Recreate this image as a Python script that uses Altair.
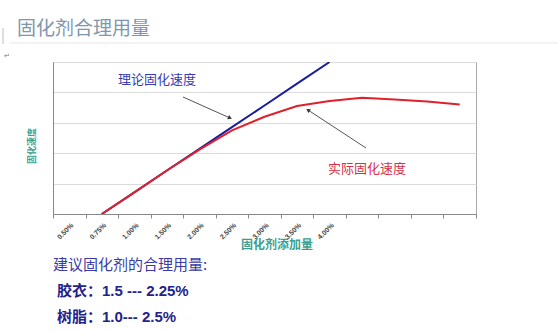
import json
import altair as alt
import pandas as pd

# ---- data ----
categories = ["0.50%", "0.75%", "1.00%", "1.50%", "2.00%", "2.50%", "3.00%",
              "3.50%", "4.00%", "", "", "", ""]
theory_rate = [None, 0.0, 0.71, 1.43, 2.14, 2.86, 3.57, 4.29, 5.0,
               None, None, None, None]
actual_rate = [None, 0.0, 0.71, 1.43, 2.12, 2.75, 3.2, 3.55, 3.72,
               3.82, 3.77, 3.7, 3.6]

page_title = "固化剂合理用量"
x_title = "固化剂添加量"
y_title = "固化速度"
theory_label = "理论固化速度"
actual_label = "实际固化速度"
note_lines = ["建议固化剂的合理用量:", "胶衣：1.5 --- 2.25%", "树脂：1.0--- 2.5%"]

W, H = 423, 152
BLUE = "#1c1c9e"
RED = "#e2202c"
TEAL = "#3a9e90"

rows = []
for i, c in enumerate(categories):
    if theory_rate[i] is not None:
        rows.append({"pos": i + 0.5, "v": theory_rate[i], "s": "theory"})
    if actual_rate[i] is not None:
        rows.append({"pos": i + 0.5, "v": actual_rate[i], "s": "actual"})
df = pd.DataFrame(rows)

label_arr = json.dumps(categories)

xscale = alt.Scale(domain=[0, len(categories)], nice=False, zero=False)
yscale = alt.Scale(domain=[0, 5], nice=False)

base = alt.Chart(df)

lines = base.mark_line(strokeWidth=2, clip=True).encode(
    x=alt.X("pos:Q", scale=xscale,
            axis=alt.Axis(values=list(range(len(categories) + 1)),
                          labelExpr=f"{label_arr}[datum.value] || ''",
                          labelAngle=-45, labelOffset=W / len(categories) / 2,
                          labelFont="Liberation Sans", labelFontSize=7,
                          labelFontWeight="bold", labelColor="#444",
                          labelPadding=3, tickSize=4, tickColor="#888",
                          domainColor="#888", grid=False, title=None,
                          labelOverlap=False)),
    y=alt.Y("v:Q", scale=yscale,
            axis=alt.Axis(values=[0, 1, 2, 3, 4, 5], labels=False, ticks=False,
                          title=None, grid=True, gridColor="#dcdcdc",
                          domainColor="#888")),
    color=alt.Color("s:N", scale=alt.Scale(domain=["theory", "actual"],
                                           range=[BLUE, RED]), legend=None),
    order=alt.Order("s:N"),
)


def txt(text, x, y, size, color, weight="normal", font="Noto Sans CJK SC",
        angle=0, align="left"):
    return alt.Chart(pd.DataFrame({"t": [text]})).mark_text(
        align=align, baseline="middle", fontSize=size, color=color,
        fontWeight=weight, font=font, angle=angle
    ).encode(text="t:N", x=alt.value(x), y=alt.value(y))


def rule(x, y, x2, y2, color, width=1):
    return alt.Chart(pd.DataFrame({"a": [0]})).mark_rule(
        color=color, strokeWidth=width
    ).encode(x=alt.value(x), y=alt.value(y), x2=alt.value(x2), y2=alt.value(y2))


def head(x, y, angle):
    return alt.Chart(pd.DataFrame({"a": [0]})).mark_point(
        shape="triangle-up", filled=True, size=22, color="#333", opacity=1,
        angle=angle
    ).encode(x=alt.value(x), y=alt.value(y))


layers = [
    lines,
    # page decoration
    txt(page_title, -36, -33, 19, "#8195ad"),
    rule(-43, -19, 505, -19, "#e6e6e6"),
    rule(-50, -34, -50, -18, "#bbbbbb"),
    txt("↵", -49, -6, 7, "#777", font="DejaVu Sans"),
    # axis titles
    txt(x_title, 224, 183, 12, TEAL, weight="bold", align="center"),
    txt(y_title, -21, 84, 9, TEAL, weight="bold", angle=270, align="center"),
    # annotations
    txt(theory_label, 65, 18, 13, "#3a3ab0"),
    rule(130, 35, 177, 56, "#555"),
    head(177, 56, 114),
    txt(actual_label, 275, 107, 13, "#d9304a"),
    rule(313, 86, 255, 48, "#555"),
    head(255, 48, 303),
    # notes
    txt(note_lines[0], 0, 203, 15, "#3b3ba8"),
    txt(note_lines[1], 4, 229, 15, "#23238c", weight="bold",
        font="Liberation Sans, Noto Sans CJK SC"),
    txt(note_lines[2], 4, 255, 15, "#23238c", weight="bold",
        font="Liberation Sans, Noto Sans CJK SC"),
]

chart = alt.layer(*layers).properties(
    width=W, height=H,
    padding={"left": 53, "top": 62, "right": 82, "bottom": 117},
    autosize=alt.AutoSizeParams(type="none"),
    background="white",
).configure_view(stroke="#aaaaaa", strokeWidth=1)

chart.save("out.html", embed_options={"renderer": "svg", "actions": False})
